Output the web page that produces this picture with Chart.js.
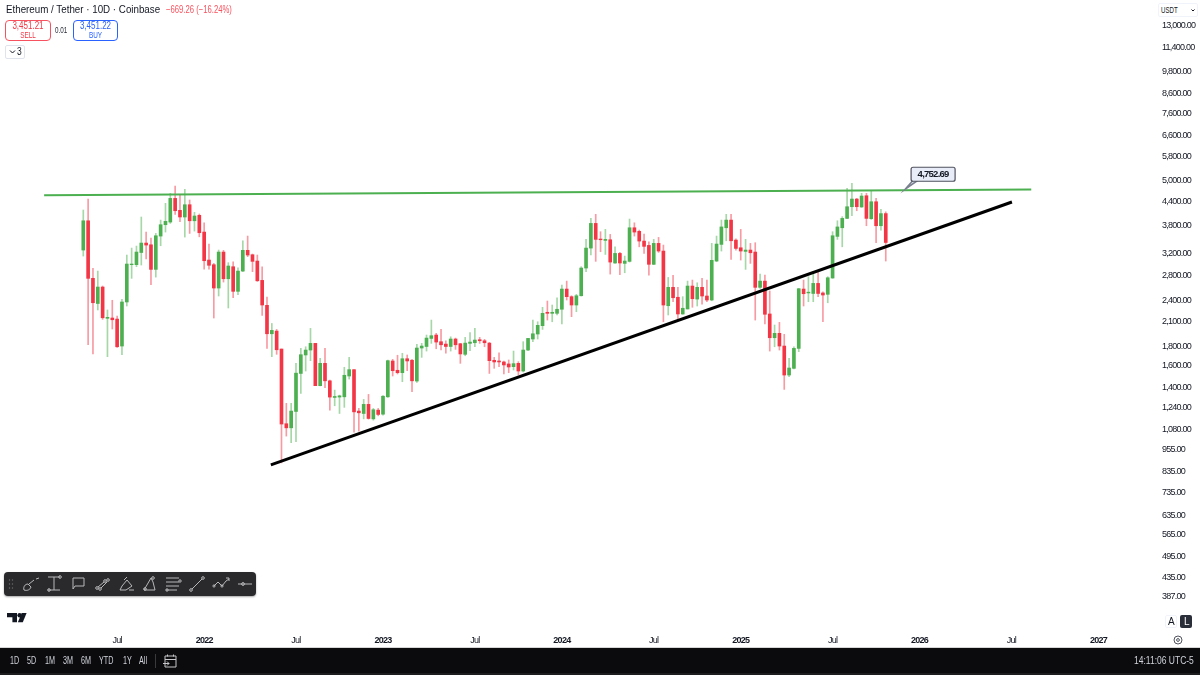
<!DOCTYPE html>
<html>
<head>
<meta charset="utf-8">
<script src="https://cdn.jsdelivr.net/npm/chart.js@4"></script>
<style>
html,body{margin:0;padding:0;background:#fff;width:1200px;height:675px;overflow:hidden}
body{position:relative;font-family:"Liberation Sans",sans-serif;color:#131722}
canvas{position:absolute;left:0;top:0}
.t{position:absolute;white-space:nowrap;line-height:1;transform-origin:left center}
.box{position:absolute;box-sizing:border-box;border-radius:4px;background:#fff}
.c{text-align:center;left:0;right:0;transform-origin:center center}
.m{font-size:10px;color:#d1d4dc;top:656px;transform:scaleX(.72)}
svg{position:absolute;overflow:visible}
</style>
</head>
<body>
<canvas id="c" width="1200" height="675"></canvas>

<div class="t" style="left:6px;top:4px;font-size:11.5px;transform:scaleX(.85)">Ethereum / Tether · 10D · Coinbase</div>
<div class="t" style="left:166px;top:5px;font-size:10px;color:#f7525f;transform:scaleX(.77)">−669.26 (−16.24%)</div>

<div class="box" style="left:5px;top:20px;width:46px;height:21px;border:1px solid #f7525f">
  <div class="t c" style="top:0;font-size:10px;color:#f23645;transform:scaleX(.8)">3,451.21</div>
  <div class="t c" style="top:10px;font-size:8.5px;color:#f23645;transform:scaleX(.75)">SELL</div>
</div>
<div class="t" style="left:55px;top:26px;font-size:9px;color:#2a2e39;transform:scaleX(.7)">0.01</div>
<div class="box" style="left:73px;top:20px;width:45px;height:21px;border:1px solid #2962ff">
  <div class="t c" style="top:0;font-size:10px;color:#2962ff;transform:scaleX(.8)">3,451.22</div>
  <div class="t c" style="top:10px;font-size:8.5px;color:#2962ff;transform:scaleX(.75)">BUY</div>
</div>
<div class="box" style="left:5px;top:45px;width:20px;height:14px;border:1px solid #e0e3eb;border-radius:2px"></div>
<svg style="left:0;top:0" width="1" height="1"><path d="M10 50.5l2.5 2.5 2.5-2.5" fill="none" stroke="#131722" stroke-width="1"/></svg>
<div class="t" style="left:17px;top:47px;font-size:10px;transform:scaleX(.85)">3</div>

<div class="box" style="left:1158px;top:3px;width:40px;height:14px;border:1px solid #f0f3fa;border-radius:2px"></div>
<div class="t" style="left:1161px;top:6px;font-size:9px;transform:scaleX(.68)">USDT</div>
<svg style="left:0;top:0" width="1" height="1"><path d="M1191.5 9.5l1.5 1.5 1.5-1.5" fill="none" stroke="#131722" stroke-width="1"/></svg>

<!-- drawing toolbar -->
<div class="box" style="left:4px;top:572px;width:252px;height:24px;background:#2a2a2c;border-radius:4px;box-shadow:0 1px 2px rgba(0,0,0,.35)"></div>
<svg style="left:0;top:0" width="1" height="1" fill="none" stroke="#b8b8ba" stroke-width="1">
  <path d="M9.5 580v0M12.5 580v0M9.5 584v0M12.5 584v0M9.5 588v0M12.5 588v0" stroke="#6a6a6c" stroke-width="1.4" stroke-linecap="round"/>
  <path d="M24 590c-1-3 1-6 4-6l3 3c-1 3-4 4-7 3zM29 584l5-4M36 579l3-1"/>
  <path d="M48 577h6m0 0h6M54 577v13M48 590h12"/><circle cx="60" cy="577" r="1.3"/><circle cx="49" cy="590" r="1.3"/>
  <path d="M73 578h11v8h-9l-2 3v-11z"/>
  <circle cx="97" cy="588" r="1.3"/><path d="M98 587l6-5"/><circle cx="105" cy="581" r="1.3"/>
  <circle cx="100" cy="589" r="1.3"/><path d="M101 588l6-6"/><circle cx="108" cy="580" r="1.3"/>
  <path d="M122 586l5-6 5 6-6 4h-6zM124 580l3-3M129 590h5"/>
  <path d="M144 590h11l-2-8-2-4-7 12z"/><circle cx="145" cy="589" r="1.3"/><circle cx="153" cy="578" r="1.3"/>
  <path d="M166 578h13M166 582h13M166 586h13M166 590h11"/><circle cx="180" cy="581" r="1.2"/><circle cx="167" cy="590" r="1.2"/>
  <circle cx="191" cy="590" r="1.3"/><path d="M192 589l10-10"/><circle cx="203" cy="578" r="1.3"/>
  <path d="M214 586l4-4 4 4 4-5 3-2M226 578h3v3"/><circle cx="214" cy="586" r="1.1"/><circle cx="222" cy="586" r="1.1"/>
  <path d="M238 584h14"/><circle cx="243" cy="584" r="1.4"/>
</svg>

<!-- logo -->
<svg style="left:0;top:0" width="1" height="1" fill="#131722">
  <path d="M7 613h10v9.2h-4.6v-5H7z"/><circle cx="19.6" cy="615.2" r="2.2"/><path d="M26.6 613l-3.8 9.2h-4.9l3.8-9.2z"/>
</svg>

<!-- bottom-right controls -->
<div class="box" style="left:1165px;top:615px;width:12px;height:13px;border:1px solid #f0f3fa;border-radius:2px"></div>
<div class="t" style="left:1168px;top:617px;font-size:10px">A</div>
<div class="box" style="left:1180px;top:615px;width:12px;height:13px;background:#2a2e39;border-radius:2px"></div>
<div class="t" style="left:1184px;top:617px;font-size:10px;color:#fff">L</div>
<svg style="left:0;top:0" width="1" height="1" fill="none" stroke="#50535e"><circle cx="1178" cy="640" r="4"/><circle cx="1178" cy="640" r="1.4"/></svg>

<!-- bottom bar -->
<div class="box" style="left:0;top:647px;width:1200px;height:1px;background:#d6d6d6;border-radius:0"></div>
<div class="box" style="left:0;top:648px;width:1200px;height:25px;background:#0b0b0d;border-radius:0"></div>
<div class="box" style="left:0;top:673px;width:1200px;height:2px;background:#1c1c1e;border-radius:0"></div>
<div class="t m" style="left:9.5px">1D</div>
<div class="t m" style="left:27px">5D</div>
<div class="t m" style="left:44.5px">1M</div>
<div class="t m" style="left:62.5px">3M</div>
<div class="t m" style="left:80.5px">6M</div>
<div class="t m" style="left:99px">YTD</div>
<div class="t m" style="left:122.5px">1Y</div>
<div class="t m" style="left:139px">All</div>
<div class="box" style="left:155px;top:654px;width:1px;height:14px;background:#3a3a3d;border-radius:0"></div>
<svg style="left:0;top:0" width="1" height="1" fill="none" stroke="#c8c8cc"><path d="M170 656h-5v11h11v-11zM165 659.5h11M167.5 654.5v2M173.5 654.5v2M163 663.5h6M167 661.5l2 2-2 2"/></svg>
<div class="t" style="left:1134px;top:656px;font-size:10px;color:#d1d4dc;transform:scaleX(.85)">14:11:06 UTC-5</div>

<script>
const opens=[3267,3913,2744,2350,2601,2145,2149,2135,1808,2372,
2985,2985,3218,3411,3375,2900,3561,3819,3882,4492,
4173,4005,4320,3913,4046,3650,3072,2985,2585,3227,
2737,2948,2533,2870,3261,3174,3053,2710,2324,1950,
1983,1775,1120,1092,1208,1527,1711,1764,1838,1416,
1625,1459,1317,1320,1322,1503,1563,1211,1193,1262,
1154,1218,1188,1322,1649,1557,1534,1672,1656,1457,
1786,1803,1895,1935,1857,1830,1803,1888,1834,1718,
1838,1845,1880,1868,1841,1656,1649,1639,1619,1592,
1625,1550,1764,1888,1947,2050,2226,2212,2212,2268,
2569,2451,2328,2465,2924,3307,3850,3496,3467,3481,
3016,3200,3009,3047,3748,3666,3453,3362,2992,3404,
3247,2318,2596,2442,2203,2272,2617,2415,2596,2461,
2401,3053,3383,3748,3930,3474,3313,3240,3267,3227,
2596,2698,2203,1903,1955,1808,1512,1576,1782,2569,
2508,2500,2660,2508,2487,2750,3554,3748,3971,4267,
4474,4260,4566,3963,4400,3795,4090];
const highs=[4181,4474,2919,2870,2617,2258,2397,2175,2411,3168,
3307,3348,4005,3650,3517,3620,3930,4358,4634,4848,
4586,4750,4447,4122,4080,3864,3390,3009,3267,3261,
3022,3040,2930,3459,3561,3188,3168,2948,2446,2078,
2003,1775,1270,1270,1625,1782,1800,2016,1838,1676,
1782,1466,1378,1336,1586,1686,1563,1231,1301,1342,
1231,1231,1333,1659,1666,1708,1729,1711,1666,1827,
1838,1935,2122,1955,2003,1868,1914,1899,1838,1907,
1963,2016,1907,1884,1849,1686,1735,1649,1659,1753,
1642,1857,1895,2122,2100,2296,2386,2328,2435,2633,
2698,2465,2487,2948,3489,3971,4072,3658,3711,3598,
3333,3220,3148,3955,3864,3695,3605,3439,3489,3532,
3369,2759,2795,2596,2451,2698,2715,2670,2744,2715,
3404,3561,3930,4072,4072,3503,3711,3489,3404,3418,
2817,2800,2538,2058,2092,1943,1676,1800,2580,2715,
2772,2829,2859,2525,2772,3658,3913,4013,4780,4930,
4492,4634,4634,4708,4492,4200,4135];
const lows=[3148,1822,1722,2258,2131,1693,2008,1793,1715,2314,
2744,2948,2979,3091,2638,2765,3355,3650,3850,4072,
3890,3539,3620,3672,3545,2905,2905,2149,2461,2682,
2286,2435,2481,2859,3136,2859,2693,2185,1782,1693,
1718,880,1038,996,1003,1350,1550,1652,1416,1413,
1398,1218,1251,1193,1239,1475,1064,1070,1154,1152,
1145,1176,1181,1317,1503,1522,1451,1553,1364,1445,
1686,1753,1838,1778,1764,1729,1753,1771,1625,1703,
1757,1800,1838,1800,1527,1576,1592,1522,1534,1560,
1512,1541,1757,1857,1888,2003,2122,2100,2189,2071,
2401,2167,2234,2461,2859,3168,3047,3233,3180,2817,
3009,2805,2840,3034,3561,3333,3200,2800,2985,3220,
2100,2189,2376,2131,2199,2272,2296,2314,2342,2376,
2390,3040,3247,3459,3085,3267,3072,2900,3009,2122,
2580,2071,1753,1800,1764,1384,1497,1569,1746,2314,
2376,2376,2451,2100,2361,2744,3489,3333,3963,4037,
4163,4250,3795,3947,3418,3695,3053];
const closes=[3913,2744,2361,2601,2152,2158,2126,1800,2372,2997,
2997,3227,3411,3369,2900,3568,3819,3899,4492,4163,
4005,4320,3913,4030,3635,3059,2974,2585,3227,2737,
2961,2533,2870,3261,3168,3047,2703,2328,1950,1991,
1767,1118,1092,1211,1530,1714,1764,1838,1416,1625,
1459,1320,1325,1330,1510,1563,1205,1198,1262,1157,
1221,1186,1327,1652,1553,1534,1672,1649,1459,1786,
1808,1899,1927,1853,1822,1803,1888,1822,1722,1841,
1853,1876,1868,1845,1652,1639,1639,1609,1589,1622,
1550,1764,1895,1950,2054,2212,2212,2226,2268,2569,
2451,2328,2465,2924,3307,3850,3489,3481,3489,3034,
3200,3016,3053,3748,3650,3453,3342,2992,3404,3247,
2328,2596,2435,2203,2282,2617,2420,2596,2461,2401,
3066,3390,3767,3930,3459,3300,3247,3267,3213,2596,
2698,2199,1903,1955,1808,1512,1579,1782,2574,2496,
2520,2660,2500,2476,2754,3568,3767,3971,4267,4474,
4267,4558,3971,4400,3795,4090,3423];

const priceTicks=[13000,11400,9800,8600,7600,6600,5800,5000,4400,3800,3200,2800,2400,2100,1800,1600,1400,1240,1080,955,835,735,635,565,495,435,387];
const timeTickBars=[7,25,44,62,81,99,118,136,155,173,192,210];
const timeTickLabels=["Jul","2022","Jul","2023","Jul","2024","Jul","2025","Jul","2026","Jul","2027"];
const resistanceLine=[{x:-8.1,y:4580},{x:196.1,y:4745}];
const supportLine=[{x:38.8,y:869},{x:192.1,y:4393}];
const calloutBar=170;
const calloutPrice=4752.69;
const calloutText="4,752.69";
const FONT="Liberation Sans";

const UP="#4caf50",DOWN="#f23645",UPW="rgba(76,175,80,.5)",DOWNW="rgba(242,54,69,.5)";
const isUp=opens.map((o,i)=>closes[i]>=o);

const calloutPlugin={id:"callout",
 beforeDraw(chart){chart.ctx.letterSpacing="-0.75px";},
 afterDatasetsDraw(chart){
  const c=chart.ctx,px=chart.scales.x.getPixelForValue(calloutBar),py=chart.scales.y.getPixelForValue(calloutPrice);
  c.save();
  c.strokeStyle="#7b8090";c.lineWidth=1.5;c.fillStyle="#e8ecf8";
  c.beginPath();c.moveTo(px,py);c.lineTo(px+8,py-9);c.lineTo(px+13,py-9);c.closePath();c.fill();c.stroke();
  c.beginPath();c.roundRect(px+6,py-22,44,14,2);c.fill();c.strokeStyle="#50535e";c.lineWidth=1.2;c.stroke();
  c.fillStyle="#131722";c.font="bold 9.5px '"+FONT+"'";c.textAlign="center";c.textBaseline="middle";
  c.fillText(calloutText,px+28,py-15);
  c.restore();
}};

new Chart(document.getElementById("c"),{
  type:"bar",
  plugins:[calloutPlugin],
  data:{datasets:[
    {type:"line",data:resistanceLine,borderColor:"#4caf50",borderWidth:2,pointRadius:0,order:0,tension:0},
    {type:"line",data:supportLine,borderColor:"#000000",borderWidth:3,pointRadius:0,order:0,tension:0},
    {type:"bar",grouped:false,order:1,barThickness:3,
      data:opens.map((o,i)=>({x:i,y:[Math.min(o,closes[i]),Math.max(o,closes[i])]})),
      backgroundColor:isUp.map(u=>u?UP:DOWN)},
    {type:"bar",grouped:false,order:2,barThickness:1,
      data:highs.map((h,i)=>({x:i,y:[lows[i],h]})),
      backgroundColor:isUp.map(u=>u?UPW:DOWNW)}
  ]},
  options:{
    responsive:false,animation:false,devicePixelRatio:1,
    layout:{padding:0},
    plugins:{legend:{display:false},tooltip:{enabled:false},title:{display:false}},
    scales:{
      x:{type:"linear",offset:false,min:-17.23,max:221.28,
        grid:{display:false,drawTicks:false,offset:false},border:{display:false},
        afterBuildTicks(s){s.ticks=timeTickBars.map(v=>({value:v}));},
        afterFit(s){s.height=47;s.paddingLeft=0;s.paddingRight=0;},
        ticks:{autoSkip:false,maxRotation:0,padding:7,color:"#131722",
          font:ctx=>{const l=ctx.tick?timeTickLabels[timeTickBars.indexOf(ctx.tick.value)]:"";return {family:FONT,size:9,weight:l==="Jul"?"normal":"bold"};},
          callback:v=>timeTickLabels[timeTickBars.indexOf(v)]}},
      y:{type:"logarithmic",position:"right",bounds:"data",min:318,max:15258,
        grid:{display:false,drawTicks:false},border:{display:false},
        afterBuildTicks(s){s.ticks=priceTicks.map(v=>({value:v}));},
        afterFit(s){s.width=47;s.paddingTop=0;s.paddingBottom=0;},
        ticks:{autoSkip:false,padding:9,color:"#131722",
          font:{family:FONT,size:9},
          callback:v=>Number(v).toLocaleString("en-US",{minimumFractionDigits:2,maximumFractionDigits:2})}}
    }
  }
});
</script>
</body>
</html>
